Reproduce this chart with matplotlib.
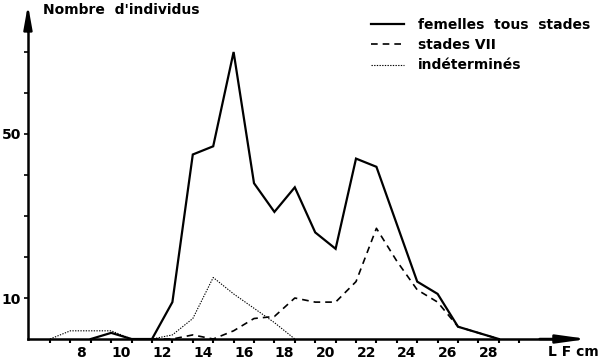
import matplotlib
matplotlib.use("Agg")
import matplotlib.pyplot as plt
from matplotlib.ticker import FixedLocator, FixedFormatter

# longueur LF (cm), milieux de classes
femelles_lf = [8.5, 9.5, 10.5, 11.5, 12.5, 13.5, 14.5, 15.5, 16.5, 17.5, 18.5,
               19.5, 20.5, 21.5, 22.5, 23.5, 24.5, 25.5, 26.5, 27.5, 28.5]
femelles = [0, 1.5, 0, 0, 9, 45, 47, 70, 38, 31, 37,
            26, 22, 44, 42, 28, 14, 11, 3, 1.5, 0]

stades_lf = [11.5, 12.5, 13.5, 14.5, 15.5, 16.5, 17.5, 18.5, 19.5,
             20.5, 21.5, 22.5, 23.5, 24.5, 25.5, 26.5, 27.5, 28.5]
stades_vii = [0, 0, 1, 0, 2, 5, 5.5, 10, 9,
              9, 14, 27, 19, 12, 9, 3, 1.5, 0]

indet_lf = [6.5, 7.5, 8.5, 9.5, 10.5, 11.5, 12.5, 13.5, 14.5, 15.5, 16.5, 17.5, 18.5]
indet = [0, 2, 2, 2, 0, 0, 1, 5, 15, 11, 7.5, 4, 0]

x_labels = [8, 10, 12, 14, 16, 18, 20, 22, 24, 26, 28]
x_ticks = [6.5 + i for i in range(24)]
y_ticks = [10, 20, 30, 40, 50, 60, 70]
y_labels = ['10', '', '', '', '50', '', '']

plt.rcParams['font.family'] = ['DejaVu Sans']
plt.rcParams['font.weight'] = 'bold'

fig = plt.figure(figsize=(5.99, 3.63), dpi=100)
ax = fig.add_axes([0, 0, 1, 1])
ax.set_xlim(4.05, 33.41)
ax.set_ylim(-5.85, 82.68)

ax.plot(femelles_lf, femelles, color='black', lw=1.6, label='femelles  tous  stades',
        solid_joinstyle='miter')
ax.plot(stades_lf, stades_vii, color='black', lw=1.2, linestyle=(0, (4, 3)),
        label='stades VII')
ax.plot(indet_lf, indet, color='black', lw=0.8, linestyle=(0, (1.2, 1.2)),
        label='indéterminés')

y0 = 5.42
ax.spines['top'].set_visible(False)
ax.spines['right'].set_visible(False)
ax.spines['left'].set_position(('data', y0))
ax.spines['bottom'].set_position(('data', 0))
ax.spines['left'].set_bounds(0, 78)
ax.spines['bottom'].set_bounds(y0, 31.5)
for s in ['left', 'bottom']:
    ax.spines[s].set_linewidth(1.8)

# fleches des axes
ax.annotate('', xy=(y0, 81.5), xytext=(y0, 75),
            arrowprops=dict(arrowstyle='-|>,head_length=1.4,head_width=0.25',
                            color='black', lw=1.8, shrinkA=0, shrinkB=0))
ax.annotate('', xy=(32.85, 0), xytext=(30.5, 0),
            arrowprops=dict(arrowstyle='-|>,head_length=1.8,head_width=0.25',
                            color='black', lw=1.8, shrinkA=0, shrinkB=0))

ax.xaxis.set_major_locator(FixedLocator(x_ticks))
ax.xaxis.set_major_formatter(FixedFormatter([''] * len(x_ticks)))
ax.xaxis.set_minor_locator(FixedLocator(x_labels))
ax.xaxis.set_minor_formatter(FixedFormatter([str(v) for v in x_labels]))
ax.tick_params(axis='x', which='major', direction='out', length=3, width=1.5)
ax.tick_params(axis='x', which='minor', length=0, pad=5, labelsize=10)

ax.yaxis.set_major_locator(FixedLocator(y_ticks))
ax.yaxis.set_major_formatter(FixedFormatter(y_labels))
ax.tick_params(axis='y', direction='out', length=3, width=1.2, pad=2, labelsize=10)

ax.text(6.15, 80.2, "Nombre  d'individus", fontsize=10, fontweight='bold',
        va='center', ha='left')
ax.text(30.9, -3.1, 'L F cm', fontsize=10, fontweight='bold', va='center', ha='left')

ax.legend(loc='upper left', bbox_to_anchor=(0.598, 0.985), frameon=False,
          handlelength=2.4, handletextpad=1.0, labelspacing=0.45,
          prop={'weight': 'bold', 'size': 10})

fig.savefig('out.png', dpi=100)
